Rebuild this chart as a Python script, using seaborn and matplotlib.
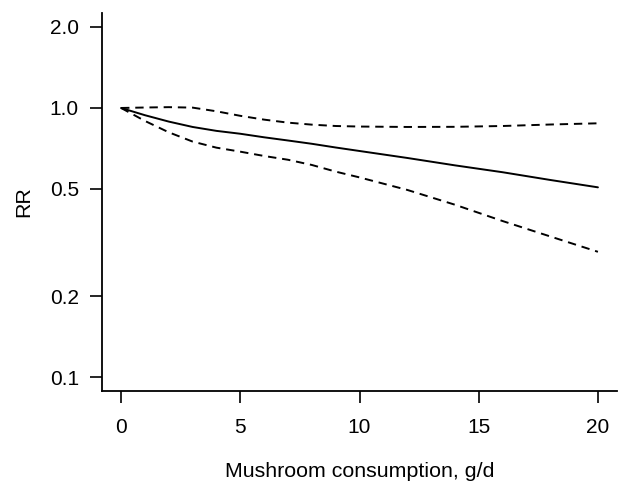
import matplotlib
matplotlib.use("Agg")
import matplotlib.pyplot as plt
import seaborn as sns
import numpy as np
import pandas as pd
from matplotlib.ticker import FixedLocator, FixedFormatter, NullLocator

# Data
dose = [0, 1, 2, 3, 4, 5, 6, 7, 8, 9, 10, 12, 14, 16, 18, 20]
rr = [1.0, 0.94, 0.89, 0.85, 0.822, 0.802, 0.778, 0.757, 0.736, 0.713,
      0.692, 0.652, 0.612, 0.577, 0.540, 0.507]
rr_upper = [1.0, 1.004, 1.007, 1.003, 0.972, 0.935, 0.905, 0.882, 0.867, 0.857,
            0.853, 0.850, 0.851, 0.857, 0.868, 0.877]
rr_lower = [1.0, 0.895, 0.812, 0.75, 0.712, 0.688, 0.663, 0.642, 0.614, 0.580,
            0.552, 0.496, 0.437, 0.380, 0.333, 0.292]
x_ticks = [0, 5, 10, 15, 20]
y_ticks = [0.1, 0.2, 0.5, 1.0, 2.0]
y_tick_labels = ["0.1", "0.2", "0.5", "1.0", "2.0"]
x_label = "Mushroom consumption, g/d"
y_label = "RR"

sns.set_theme(style="ticks")
plt.rcParams["font.family"] = ["Liberation Sans", "DejaVu Sans"]

fig = plt.figure(figsize=(6.2, 4.83), dpi=100)
ax = fig.add_axes([102 / 620, 1 - 391 / 483, (617 - 102) / 620, (391 - 13) / 483])

df = pd.DataFrame({"dose": dose, "rr": rr, "upper": rr_upper, "lower": rr_lower})
sns.lineplot(data=df, x="dose", y="rr", color="black", lw=1.4, ax=ax)
sns.lineplot(data=df, x="dose", y="upper", color="black", lw=1.4, ax=ax)
sns.lineplot(data=df, x="dose", y="lower", color="black", lw=1.4, ax=ax)
for ln in ax.lines[1:]:
    ln.set_dashes((4.3, 3.0))

ax.set_yscale("log")
ax.set_xlim(-0.8, 20.8)
ax.set_ylim(10 ** -1.052, 10 ** 0.353)
ax.xaxis.set_major_locator(FixedLocator(x_ticks))
ax.yaxis.set_major_locator(FixedLocator(y_ticks))
ax.yaxis.set_major_formatter(FixedFormatter(y_tick_labels))
ax.yaxis.set_minor_locator(NullLocator())
ax.xaxis.set_minor_locator(NullLocator())

for s in ["top", "right"]:
    ax.spines[s].set_visible(False)
for s in ["left", "bottom"]:
    ax.spines[s].set_linewidth(1.3)
    ax.spines[s].set_color("black")

ax.tick_params(axis="both", which="major", length=8.6, width=1.2,
               color="black", labelsize=15, labelcolor="black")
ax.tick_params(axis="x", pad=11)
ax.tick_params(axis="y", pad=8)
ax.set_xlabel(x_label, fontsize=15.4, color="black", labelpad=18)
ax.set_ylabel(y_label, fontsize=15.4, color="black", labelpad=12)
ax.grid(False)

fig.savefig("out.png", dpi=100)
